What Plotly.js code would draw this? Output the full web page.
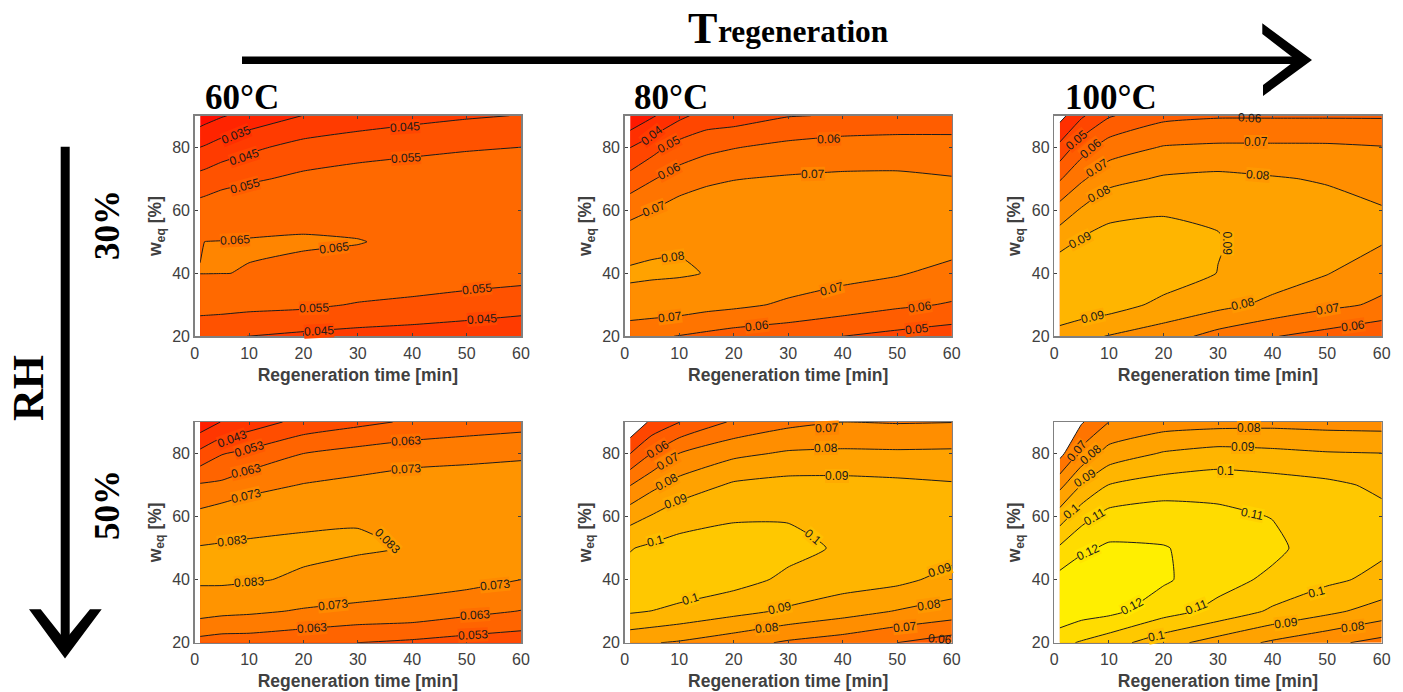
<!DOCTYPE html>
<html>
<head>
<meta charset="utf-8">
<script src="https://cdn.plot.ly/plotly-3.0.1.min.js"></script>
<style>html,body{margin:0;padding:0;background:#fff}#chart{width:1403px;height:692px}</style>
</head>
<body>
<div id="chart"></div>
<script>
// wEq axis nodes (rows) shared by all panels
const weqValues = [20,30,40,50,60,70,80,90];

// Panel data: each inner list is one regeneration time, bottom (20) to top (90)
const time_60_30 = [1,2,5,10,20,30,40,50,60];
const z_60_30 = [
 [.0475,.059,.0651,.0648,.0594,.0483,.035,.0197],
 [.0473,.0589,.0651,.06505,.0600,.0490,.036,.021],
 [.0462,.0588,.06505,.0651,.0622,.0511,.0396,.0242],
 [.0449,.0579,.0649,.0652,.0635,.0535,.0429,.0285],
 [.0429,.057,.0638,.0655,.0634,.0571,.0485,.0352],
 [.0415,.0543,.063,.0652,.0631,.0597,.0503,.0398],
 [.0406,.0525,.0622,.0640,.0632,.0605,.0525,.0419],
 [.040,.050,.0610,.0625,.063,.0615,.054,.0439],
 [.0394,.048,.0595,.061,.0625,.0618,.055,.0453]];

const time_80_30 = [1,5,10,15,20,30,40,50,60];
const z_80_30 = [
 [.0634,.0766,.0815,.0755,.0674,.0534,.0398,.0215],
 [.0617,.0763,.081,.0787,.07,.0592,.0461,.0287],
 [.0596,.0756,.0807,.0794,.0745,.0645,.054,.0375],
 [.0576,.0735,.0798,.0788,.0755,.0682,.0573,.044],
 [.0555,.0722,.0785,.0785,.0755,.0697,.0595,.0449],
 [.0535,.0685,.0755,.0768,.075,.071,.0627,.0495],
 [.05,.0654,.0729,.0755,.0745,.0715,.065,.0507],
 [.0471,.0618,.0709,.0745,.0735,.0715,.0655,.0518],
 [.0444,.0592,.0668,.0744,.0725,.0703,.0665,.0503]];

const time_100_30 = [1,5,10,20,30,40,50,60];
const z_100_30 = [
 [.0865,.0968,.0975,.0863,.0742,.059,.0426,.0265],
 [.0825,.0965,.0985,.0915,.0812,.0685,.0555,.0385],
 [.0795,.0945,.0975,.0935,.0875,.0768,.0649,.049],
 [.0746,.0875,.0955,.0945,.0889,.0812,.0706,.0574],
 [.0663,.083,.0898,.0905,.089,.0825,.0716,.059],
 [.0605,.0775,.0851,.0865,.0855,.0808,.0716,.059],
 [.0563,.0724,.0804,.0832,.0835,.0791,.0715,.059],
 [.0515,.0685,.0735,.0808,.0802,.0789,.0704,.059]];

const time_60_50 = [1,5,10,20,30,40,50,60];
const z_60_50 = [
 [.0595,.0771,.0844,.0836,.076,.064,.0457,.0265],
 [.0581,.0756,.0847,.0838,.0791,.0649,.0525,.0335],
 [.058,.0747,.0839,.0842,.0802,.0695,.0557,.0377],
 [.0559,.0721,.0818,.0848,.0812,.0735,.063,.0463],
 [.053,.0705,.0795,.084,.0824,.0757,.0665,.0505],
 [.0512,.0697,.0769,.0826,.0815,.0775,.0692,.0544],
 [.0489,.0659,.0763,.0805,.0805,.0785,.07,.0573],
 [.0471,.0627,.073,.0785,.0795,.0785,.0714,.059]];

const time_80_50 = [1,5,10,20,30,40,50,60];
const z_80_50 = [
 [.0821,.1013,.1035,.0995,.0863,.0697,.0499,.0301],
 [.0805,.0999,.1045,.1018,.0908,.0773,.0603,.0425],
 [.079,.0976,.1068,.1032,.0962,.0838,.0702,.0498],
 [.0742,.0931,.1037,.1045,.0989,.0915,.0777,.0615],
 [.0685,.0885,.098,.103,.0992,.0935,.0813,.0673],
 [.065,.0842,.0947,.0987,.0975,.0935,.0818,.07],
 [.06,.0795,.0926,.096,.0965,.0925,.0815,.0694],
 [.055,.0758,.0866,.0942,.0945,.091,.0818,.0698]];

const time_100_50 = [1,5,10,20,30,40,50,60];
const z_100_50 = [
 [.1125,.1285,.1235,.1115,.0951,.0771,.0566,.0366],
 [.109,.1245,.1265,.1182,.1065,.0902,.0732,.059],
 [.1045,.1227,.1275,.1215,.1136,.1003,.084,.07],
 [.0939,.1143,.1214,.1205,.1155,.1045,.0909,.0751],
 [.0857,.1068,.114,.1165,.1125,.1062,.0938,.0763],
 [.0784,.0985,.1078,.1125,.1097,.1045,.0925,.0769],
 [.0724,.0924,.1019,.1042,.1055,.1022,.0908,.0762],
 [.0668,.0857,.0976,.1016,.1025,.0981,.0902,.0758]];

// Contour label text per panel, with the time, wEq and angle of each label
const labels_60_30 = {t:['0.035','0.045','0.055','0.065','0.065','0.045','0.055','0.055','0.055','0.045','0.045'],
  x:[7.6,9.1,9.3,7.4,25.6,38.6,38.8,22,52,22.8,52.9], y:[83.8,76.9,67.6,50.5,48.1,86.4,76.6,29.1,34.9,21.8,25.4], a:[-22,-18,-15,-3,-7,-4,-4,-2,-6,-3,-4]};
const labels_80_30 = {t:['0.04','0.05','0.06','0.07','0.08','0.06','0.07','0.07','0.07','0.06','0.06','0.05'],
  x:[5.1,8.2,8.2,5.3,8.8,37.4,34.5,8.3,38,24.2,54.1,53.6], y:[83.8,80.9,72.5,60.5,45.2,82.7,71.4,26.2,34.9,23.3,29.2,22.3], a:[-38,-28,-28,-22,-8,-2,-1,-7,-15,-7,-9,-6]};
const labels_100_30 = {t:['0.05','0.06','0.07','0.08','0.09','0.06','0.07','0.08','0.09','0.09','0.08','0.07','0.06'],
  x:[4.1,6.8,7.8,8.1,4.7,35.9,37,37.4,31.6,7.1,34.5,50.2,54.7], y:[82.2,79.6,73.5,65.3,50.7,89.3,81.8,71.1,49.5,26,30.2,28.6,23.4], a:[-40,-40,-33,-28,-28,3,0,5,90,-13,-13,-10,-8]};
const labels_60_50 = {t:['0.043','0.053','0.063','0.073','0.083','0.083','0.083','0.063','0.073','0.073','0.073','0.063','0.063','0.053'],
  x:[6.8,10,9.4,9.4,6.8,10,35.4,38.8,38.8,25.4,55.3,21.6,51.6,51.2], y:[84.7,81.5,74.4,66.4,52.4,39.4,52.1,83.9,75.1,32,38.2,24.6,28.8,22.4], a:[-20,-17,-13,-13,-7,-4,45,-3,-3,-6,-6,-4,-4,-3]};
const labels_80_50 = {t:['0.06','0.07','0.08','0.09','0.1','0.1','0.07','0.08','0.09','0.1','0.09','0.08','0.09','0.08','0.07','0.06'],
  x:[6.2,8,7.7,9.5,5.6,34.5,37.2,37,38.9,12,28.5,26.1,57.8,55.9,51.4,57.8], y:[81.3,77.6,70.9,64.9,52.1,53.4,88.2,81.7,72.8,33.9,30.9,24.6,43.1,32,25.1,21.2], a:[-32,-30,-28,-20,-15,40,-2,-1,0,-17,-12,-5,-18,-8,-6,5]};
const labels_100_50 = {t:['0.07','0.08','0.09','0.1','0.11','0.12','0.08','0.09','0.1','0.11','0.12','0.11','0.1','0.1','0.09','0.08'],
  x:[4.1,6.8,5.6,3.2,7.3,6.2,35.7,34.5,31.3,36.3,14.3,26.1,48,18.8,42.5,54.7], y:[80.8,79.7,72.3,61.7,60,48.9,88,82,74.5,60.9,31.7,31.4,36.2,22.1,26.4,25.1], a:[-50,-40,-33,-40,-30,-25,0,0,0,12,-28,-22,-15,-12,-7,-7]};

const W = 1403, H = 692;
const px = v => v / W, py = v => 1 - v / H;
const autumn = v => {
  const g = v >= 0.07 ? 0.52 + 7.6*(v-0.07) : 0.05 + 9*(v-0.02);
  return `rgb(255,${Math.round(255*Math.min(1,Math.max(0,g)))},0)`;
};

const panels = [
  {t:time_60_30,  z:z_60_30,  start:.025, end:.065, white:false, l:194.7, r:521,   top:115.7, bot:336.3, lab:labels_60_30},
  {t:time_80_30,  z:z_80_30,  start:.03,  end:.08,  white:false, l:624.7, r:951.7, top:115.7, bot:336.3, lab:labels_80_30},
  {t:time_100_30, z:z_100_30, start:.03,  end:.09,  white:true,  l:1054.3,r:1381.7,top:115.7, bot:336.3, lab:labels_100_30},
  {t:time_60_50,  z:z_60_50,  start:.023, end:.083, white:false, l:194.7, r:521,   top:422,   bot:642.7, lab:labels_60_50},
  {t:time_80_50,  z:z_80_50,  start:.04,  end:.1,   white:true,  l:624.7, r:951.7, top:422,   bot:642.7, lab:labels_80_50},
  {t:time_100_50, z:z_100_50, start:.06,  end:.12,  white:true,  l:1054.3,r:1381.7,top:422,   bot:642.7, lab:labels_100_50}
];

const tickFont = {family:'"Liberation Sans",Arial,sans-serif', size:16, color:'#404040'};
const titleFont = {family:'"Liberation Sans",Arial,sans-serif', size:17.5, color:'#404040'};
const serif = '"Liberation Serif","Times New Roman",serif';

const traces = [], annotations = [], shapes = [];
const layout = {width:W, height:H, margin:{l:0,r:0,t:0,b:0}, paper_bgcolor:'#fff', plot_bgcolor:'#fff',
  showlegend:false, hovermode:false, annotations, shapes};

panels.forEach((p,i) => {
  const n = i ? String(i+1) : '';
  const cs = 0.01;
  const nc = Math.round((p.end - p.start)/cs) + 1;
  const colorscale = [];
  for (let k=0;k<=nc;k++) {
    const mid = p.start + (k-0.5)*cs;
    colorscale.push([k/nc, (k===0 && p.white) ? '#ffffff' : autumn(mid)]);
  }
  traces.push({type:'contour', x:p.t, y:weqValues, z:p.z, transpose:true, xaxis:'x'+n, yaxis:'y'+n,
    autocontour:false, showscale:false, colorscale, connectgaps:false,
    contours:{coloring:'fill', start:p.start, end:p.end, size:cs, showlines:true, showlabels:false},
    line:{color:'#1c1c1c', width:1, smoothing:0.5}, hoverinfo:'skip'});
  layout['xaxis'+n] = {domain:[px(p.l),px(p.r)], anchor:'y'+n, range:[0,60], dtick:10, tick0:0, ticks:'inside', ticklen:3, tickcolor:'#404040',
    showline:true, mirror:'ticks', linecolor:'#808080', linewidth:1.5, showgrid:false, zeroline:false, tickfont:tickFont,
    ticklabelstandoff:2, title:{text:'<b>Regeneration time [min]</b>', font:titleFont, standoff:7}, automargin:false};
  layout['yaxis'+n] = {domain:[py(p.bot),py(p.top)], anchor:'x'+n, range:[20,90], tickvals:[20,40,60,80], ticks:'inside', ticklen:3, tickcolor:'#404040',
    showline:true, mirror:'ticks', linecolor:'#808080', linewidth:1.5, showgrid:false, zeroline:false, tickfont:tickFont,
    title:{text:'<b>w<sub>eq</sub> [%]</b>', font:titleFont, standoff:6}, automargin:false};
  p.lab.t.forEach((t,j) => {
    const nearEdge = p.lab.y[j] > 88.5 || p.lab.y[j] < 21.6;
    annotations.push({xref:'x'+n, yref:'y'+n, x:p.lab.x[j], y:p.lab.y[j], text:t, textangle:p.lab.a[j], showarrow:false,
      font:{family:'"Liberation Sans",Arial,sans-serif', size:12, color:'#1a1a1a'},
      bgcolor:nearEdge ? 'rgba(0,0,0,0)' : autumn(parseFloat(t)), borderpad:0, borderwidth:0});
  });
});

// Big outer texts
const bigText = (text,x,y,size,extra={}) => annotations.push(Object.assign({xref:'paper',yref:'paper',x:px(x),y:py(y),text,showarrow:false,
  xanchor:'left',yanchor:'middle',font:{family:serif,size,color:'#000'}},extra));
bigText('<b>60°C</b>',203,97.5,35);
bigText('<b>80°C</b>',632,97.5,35);
bigText('<b>100°C</b>',1063,97.5,35);
bigText('<b>T</b>',686,28,44);
bigText('<b>regeneration</b>',716,32,31.4);
bigText('<b>30%</b>',107,225,35,{textangle:-90,xanchor:'center'});
bigText('<b>50%</b>',107,505,35,{textangle:-90,xanchor:'center'});
bigText('<b>RH</b>',28,388,44,{textangle:-90,xanchor:'center'});

// Arrows
const path = pts => 'M' + pts.map(q => px(q[0]) + ',' + py(q[1])).join('L') + 'Z';
const arrowShape = pts => shapes.push({type:'path', xref:'paper', yref:'paper', path:path(pts), fillcolor:'#000', line:{width:0}, layer:'above'});
arrowShape([[242,56.5],[1302,56.5],[1302,64],[242,64]]);
arrowShape([[1262.3,23.3],[1312,60],[1263,96],[1263,85],[1296,60],[1262.3,34]]);
arrowShape([[60.7,146.7],[69.7,146.7],[69.7,645],[60.7,645]]);
arrowShape([[29,609.3],[40.7,609.3],[65,640],[90,609.3],[101.7,609.3],[65,658.5]]);

Plotly.newPlot('chart', traces, layout, {staticPlot:true, displayModeBar:false});
</script>
</body>
</html>
